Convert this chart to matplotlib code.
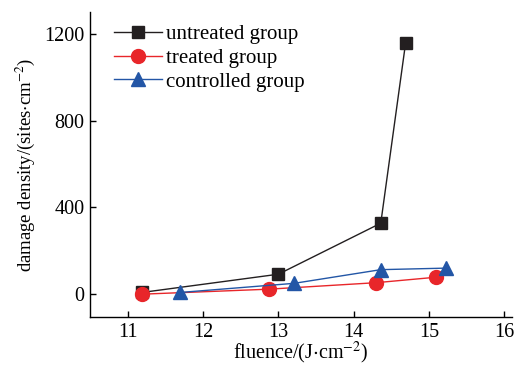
import matplotlib
matplotlib.use("Agg")
import matplotlib.pyplot as plt

plt.rcParams['font.family'] = ['Liberation Serif', 'DejaVu Serif']
plt.rcParams['mathtext.fontset'] = 'stix'

untreated_x = [11.19, 13.0, 14.36, 14.69]
untreated_y = [8, 92, 327, 1158]
treated_x = [11.19, 12.87, 14.30, 15.09]
treated_y = [0, 23, 53, 78]
controlled_x = [11.70, 13.21, 14.36, 15.22]
controlled_y = [8, 50, 113, 120]

xticks = [11, 12, 13, 14, 15, 16]
yticks = [0, 400, 800, 1200]

fig = plt.figure(figsize=(5.18, 3.65), dpi=100)
ax = fig.add_axes([0.174, 0.131, 0.814, 0.836])

ax.plot(untreated_x, untreated_y, color='#231f20', lw=1.0, marker='s', ms=8.5, label='untreated group')
ax.plot(treated_x, treated_y, color='#e8262a', lw=1.0, marker='o', ms=10, label='treated group')
ax.plot(controlled_x, controlled_y, color='#2356a6', lw=1.0, marker='^', ms=10, label='controlled group')

ax.set_xlim(10.5, 16.1)
ax.set_ylim(-106, 1300)
ax.set_xticks(xticks)
ax.set_yticks(yticks)
ax.tick_params(direction='in', labelsize=14.5, length=4, width=1, pad=4)
for s in ['top', 'right']:
    ax.spines[s].set_visible(False)
for s in ['left', 'bottom']:
    ax.spines[s].set_linewidth(1.0)

ax.set_xlabel(r'fluence/(J$\cdot$cm$^{-2}$)', fontsize=14.5, labelpad=-1)
ax.set_ylabel(r'damage density/(sites$\cdot$cm$^{-2}$)', fontsize=13.5, labelpad=5)

ax.legend(loc='upper left', frameon=False, fontsize=15, handlelength=2.3,
          handletextpad=0.2, labelspacing=0.2, borderaxespad=0.2, bbox_to_anchor=(0.026, 1.0))

fig.savefig('out.png', dpi=100)
